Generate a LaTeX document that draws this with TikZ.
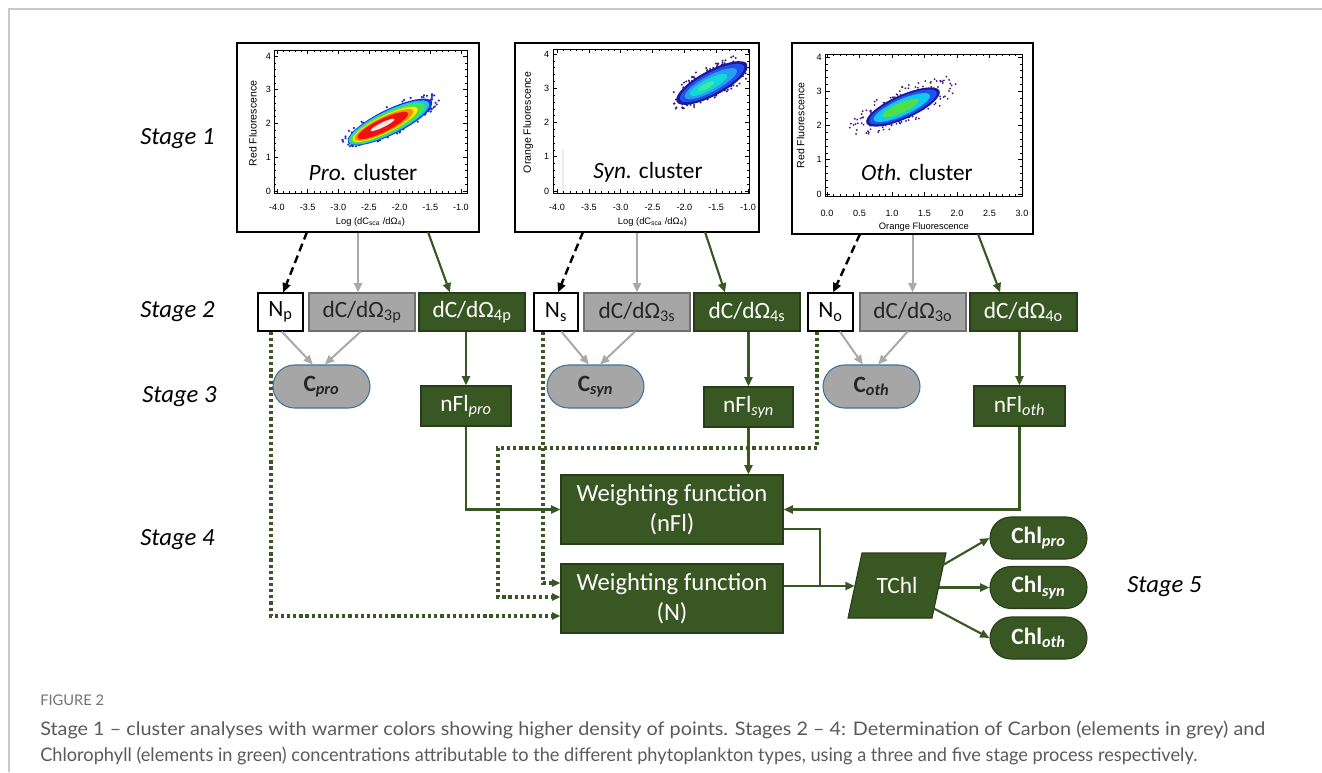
\documentclass[tikz,border=0pt]{standalone}
\usepackage{fontspec}
\usepackage{graphicx}
\setmainfont{Carlito}
\newfontfamily\axfont{Liberation Sans}
\newfontfamily\capfont{Lato}
\usetikzlibrary{arrows.meta,calc,shapes.misc}
\definecolor{dg}{HTML}{385723}
\definecolor{dgd}{HTML}{263D17}
\definecolor{gfill}{HTML}{A6A6A6}
\definecolor{gline}{HTML}{6F6F6F}
\definecolor{garr}{HTML}{A9A9A9}
\definecolor{cblue}{HTML}{41719C}
\definecolor{capg}{HTML}{5A5A5A}
\definecolor{frameg}{HTML}{C8C8C8}
\definecolor{bA}{HTML}{1C2AD0}
\definecolor{bB}{HTML}{10C8F0}
\definecolor{bC}{HTML}{4CE04C}
\definecolor{bD}{HTML}{F2F000}
\definecolor{bE}{HTML}{FF9000}
\definecolor{bF}{HTML}{F01010}
\definecolor{bG}{HTML}{FFE8E8}
\definecolor{nv}{HTML}{1A1A9A}
\definecolor{pu}{HTML}{3A1A8A}
\definecolor{b2}{HTML}{2050F0}
\definecolor{lb}{HTML}{2C9CF0}
\definecolor{cy}{HTML}{10D8D8}
\definecolor{gc}{HTML}{40E8A0}
\begin{document}
\begin{tikzpicture}[x=0.75pt,y=-0.75pt,
  bx/.style={draw, line width=0.8pt, inner sep=0pt, minimum height=28.5pt, font=\fontsize{17.5}{21}\selectfont},
  wb/.style={bx, fill=white, draw=black},
  gb/.style={bx, fill=gfill, draw=gline, text=black!85},
  nb/.style={bx, fill=dg, draw=dgd, text=white},
  cp/.style={rounded rectangle, draw=cblue, line width=0.8pt, fill=gfill, minimum width=72.75pt, minimum height=32.25pt, inner sep=0pt, font=\fontsize{17.5}{21}\selectfont\bfseries, text=black!85},
  chl/.style={rounded rectangle, draw=dgd, line width=0.8pt, fill=dg, text=white, minimum width=72.75pt, minimum height=31.5pt, inner sep=0pt, font=\fontsize{17.5}{21}\selectfont\bfseries},
  wf/.style={bx, fill=dg, draw=dgd, text=white, minimum width=166.5pt, minimum height=51.75pt, align=center, font=\fontsize{18.5}{22.5}\selectfont},
  stg/.style={anchor=west, inner sep=0pt, font=\fontsize{18.5}{20}\selectfont\itshape},
  ga/.style={draw=dg, line width=1.6pt, -{Triangle[length=7pt,width=6pt]}},
  gra/.style={draw=garr, line width=1.5pt, -{Triangle[length=7pt,width=6pt]}},
  bda/.style={draw=black, line width=1.8pt, dash pattern=on 6pt off 3.5pt, -{Triangle[length=7pt,width=6pt]}},
  dta/.style={draw=dg, line width=2.5pt, dash pattern=on 2.4pt off 2.2pt, -{Triangle[length=6.5pt,width=5.5pt]}},
  tk/.style={line width=0.4pt},
  axl/.style={font=\axfont\fontsize{6.8}{7}\selectfont, inner sep=0.5pt},
  axt/.style={font=\axfont\fontsize{7}{8}\selectfont, inner sep=0.5pt},
  ayt/.style={font=\axfont\fontsize{7.9}{8}\selectfont, inner sep=0.5pt},
  clu/.style={font=\fontsize{17.5}{20}\selectfont},
  pbox/.style={draw, line width=0.8pt, inner sep=0pt, fill=white},
]
\useasboundingbox (0,0) rectangle (1322,772);
\draw[frameg, line width=1.1pt] (9,772) -- (9,9) -- (1322,9);

% ---------- plot boxes
\node[pbox, minimum width=181.5pt, minimum height=141.75pt] (p1) at (358,137.5) {};
\node[pbox, minimum width=183pt, minimum height=141.75pt] (p2) at (637,137.5) {};
\node[pbox, minimum width=180.75pt, minimum height=143.25pt] (p3) at (912.5,138.5) {};

% ---------- plot 1 blob
\begin{scope}[shift={(390,122)}, rotate=26]
\pgfmathsetseed{3}
\foreach \i in {1,...,60}{
  \pgfmathsetmacro\th{360*rnd}\pgfmathsetmacro\rr{0.95+0.2*rnd}
  \fill[bA] ({\rr*35*cos(\th)*1pt},{\rr*9.5*sin(\th)*1pt}) rectangle ++(1.3pt,1.3pt);}
\fill[bA] (0,0) ellipse [x radius=35pt, y radius=9.5pt];
\fill[bB] (-1pt,0) ellipse [x radius=33.5pt, y radius=8.7pt];
\fill[bC] (-2pt,0) ellipse [x radius=31pt, y radius=7.8pt];
\fill[bD] (-4pt,0) ellipse [x radius=27pt, y radius=6.5pt];
\fill[bE] (-5pt,0) ellipse [x radius=24.5pt, y radius=5.8pt];
\fill[bF] (-6pt,0) ellipse [x radius=21pt, y radius=4.9pt];
\fill[bG] (-6pt,0.5pt) ellipse [x radius=10pt, y radius=1.8pt];
\end{scope}

% ---------- plot 2 blob
\begin{scope}
\clip (553,49) rectangle (747,193);
\draw[black!8, line width=0.8pt] (563,191) -- (563,150);
\begin{scope}[shift={(712,83)}, rotate=28]
\pgfmathsetseed{11}
\foreach \i in {1,...,90}{
  \pgfmathsetmacro\th{360*rnd}\pgfmathsetmacro\rr{0.9+0.4*rnd}
  \fill[pu] ({\rr*30*cos(\th)*1pt},{\rr*9.5*sin(\th)*1pt}) rectangle ++(1.2pt,1.2pt);}
\fill[nv] (0,0) ellipse [x radius=30pt, y radius=9.5pt];
\fill[b2] (0,0) ellipse [x radius=27pt, y radius=7.8pt];
\fill[lb] (-1pt,0) ellipse [x radius=22pt, y radius=6pt];
\fill[cy] (-3pt,0) ellipse [x radius=16pt, y radius=4.2pt];
\fill[gc] (-5pt,0) ellipse [x radius=7pt, y radius=2pt];
\end{scope}
\end{scope}

% ---------- plot 3 blob
\begin{scope}[shift={(903,107)}, rotate=24]
\pgfmathsetseed{5}
\foreach \i in {1,...,110}{
  \pgfmathsetmacro\th{360*rnd}\pgfmathsetmacro\rr{0.9+0.6*rnd}
  \fill[pu] ({\rr*30*cos(\th)*1pt},{\rr*9*sin(\th)*1pt}) rectangle ++(1.1pt,1.1pt);}
\fill[nv] (0,0) ellipse [x radius=30pt, y radius=9pt];
\fill[b2] (0,0) ellipse [x radius=27.5pt, y radius=7.5pt];
\fill[bB] (-1pt,0) ellipse [x radius=23pt, y radius=6pt];
\fill[bC] (-2pt,0) ellipse [x radius=15pt, y radius=3.8pt];
\end{scope}

% ---------- plot 1 axes
\begin{scope}[shift={(522.3,191)}, x=46pt, y=25.31pt]
\draw[line width=0.5pt] (-4.05,-0.06) rectangle (-0.9,4.18);
\foreach \t in {-4,-3.5,...,-1}{\draw[tk] (\t,-0.06) -- ++(0,3pt); \draw[tk] (\t,4.18) -- ++(0,-3pt);}
\foreach \t in {-4,-3.9,...,-0.95}{\draw[tk] (\t,-0.06) -- ++(0,1.5pt); \draw[tk] (\t,4.18) -- ++(0,-1.5pt);}
\foreach \t in {0,1,2,3,4}{\draw[tk] (-4.05,\t) -- ++(3pt,0); \draw[tk] (-0.9,\t) -- ++(-3pt,0);}
\foreach \t in {0,0.2,...,4.1}{\draw[tk] (-4.05,\t) -- ++(1.5pt,0); \draw[tk] (-0.9,\t) -- ++(-1.5pt,0);}
\foreach \t/\l [count=\i] in {-4/-4.0,-3.5/-3.5,-3/-3.0,-2.5/-2.5,-2/-2.0,-1.5/-1.5,-1/-1.0}
  {\node[axl, yshift=-10.5pt] (p1x\i) at (\t,-0.06) {\l};}
\foreach \t [count=\i] in {0,1,2,3,4}{\node[axl, anchor=east, xshift=-1.5pt] (p1y\i) at (-4.05,\t) {\t};}
\node[axt, yshift=-21.75pt] (p1xt) at (-2.475,-0.06) {Log (dC\textsubscript{sca} /dΩ\textsubscript{4})};
\node[ayt, xshift=-15.75pt, rotate=90] (p1yt) at (-4.05,2.0) {Red Fluorescence};
\end{scope}

% ---------- plot 2 axes
\begin{scope}[shift={(811.7,191)}, x=47.75pt, y=25.69pt]
\draw[line width=0.5pt] (-4.06,-0.06) rectangle (-0.98,4.15);
\foreach \t in {-4,-3.5,...,-1}{\draw[tk] (\t,-0.06) -- ++(0,3pt); \draw[tk] (\t,4.15) -- ++(0,-3pt);}
\foreach \t in {-4,-3.9,...,-0.95}{\draw[tk] (\t,-0.06) -- ++(0,1.5pt); \draw[tk] (\t,4.15) -- ++(0,-1.5pt);}
\foreach \t in {0,1,2,3,4}{\draw[tk] (-4.06,\t) -- ++(3pt,0); \draw[tk] (-0.98,\t) -- ++(-3pt,0);}
\foreach \t in {0,0.2,...,4.1}{\draw[tk] (-4.06,\t) -- ++(1.5pt,0); \draw[tk] (-0.98,\t) -- ++(-1.5pt,0);}
\foreach \t/\l [count=\i] in {-4/-4.0,-3.5/-3.5,-3/-3.0,-2.5/-2.5,-2/-2.0,-1.5/-1.5,-1/-1.0}
  {\node[axl, yshift=-10.5pt] (p2x\i) at (\t,-0.06) {\l};}
\foreach \t [count=\i] in {0,1,2,3,4}{\node[axl, anchor=east, xshift=-2.25pt] (p2y\i) at (-4.06,\t) {\t};}
\node[axt, yshift=-21.75pt] (p2xt) at (-2.5,-0.06) {Log (dC\textsubscript{sca} /dΩ\textsubscript{4})};
\node[ayt, xshift=-18.75pt, rotate=90] (p2yt) at (-4.06,2.0) {Orange Fluorescence};
\end{scope}

% ---------- plot 3 axes
\begin{scope}[shift={(827,194)}, x=48.75pt, y=25.69pt]
\draw[line width=0.5pt] (-0.02,-0.06) rectangle (3.0,4.08);
\foreach \t in {0,0.5,...,3}{\draw[tk] (\t,-0.06) -- ++(0,3pt); \draw[tk] (\t,4.08) -- ++(0,-3pt);}
\foreach \t in {0,0.1,...,3.01}{\draw[tk] (\t,-0.06) -- ++(0,1.5pt); \draw[tk] (\t,4.08) -- ++(0,-1.5pt);}
\foreach \t in {0,1,2,3,4}{\draw[tk] (-0.02,\t) -- ++(3pt,0); \draw[tk] (3.0,\t) -- ++(-3pt,0);}
\foreach \t in {0,0.2,...,4.01}{\draw[tk] (-0.02,\t) -- ++(1.5pt,0); \draw[tk] (3.0,\t) -- ++(-1.5pt,0);}
\foreach \t/\l [count=\i] in {0/0.0,0.5/0.5,1/1.0,1.5/1.5,2/2.0,2.5/2.5,3/3.0}
  {\node[axl, yshift=-12.75pt] (p3x\i) at (\t,-0.06) {\l};}
\foreach \t [count=\i] in {0,1,2,3,4}{\node[axl, anchor=east, xshift=-2.25pt] (p3y\i) at (-0.02,\t) {\t};}
\node[axt, yshift=-23.25pt] (p3xt) at (1.49,-0.06) {Orange Fluorescence};
\node[ayt, xshift=-18.75pt, rotate=90] (p3yt) at (-0.02,2.0) {Red Fluorescence};
\end{scope}

% ---------- cluster labels
\node[clu] (c1) at (363,172) {\textit{Pro.} cluster};
\node[clu] (c2) at (648,172) {\textit{Syn.} cluster};
\node[clu] (c3) at (917,172) {\textit{Oth.} cluster};

% ---------- stage labels
\node[stg] (st1) at (140,139) {Stage 1};
\node[stg] (st2) at (140,312) {Stage 2};
\node[stg] (st3) at (142,397) {Stage 3};
\node[stg] (st4) at (140,540) {Stage 4};
\node[stg] (st5) at (1127,587) {Stage 5};

% ---------- stage 2
\node[wb, minimum width=33.75pt] (Np) at (280.5,312) {N\textsubscript{p}};
\node[gb, minimum width=79.5pt] (d3p) at (362,312) {dC/dΩ\textsubscript{3p}};
\node[nb, minimum width=79.5pt] (d4p) at (472,312) {dC/dΩ\textsubscript{4p}};
\node[wb, minimum width=33pt] (Ns) at (556,312) {N\textsubscript{s}};
\node[gb, minimum width=79.5pt] (d3s) at (637,312) {dC/dΩ\textsubscript{3s}};
\node[nb, minimum width=79.5pt] (d4s) at (747,312) {dC/dΩ\textsubscript{4s}};
\node[wb, minimum width=33.75pt] (No) at (830.5,312) {N\textsubscript{o}};
\node[gb, minimum width=79.5pt] (d3o) at (913,312) {dC/dΩ\textsubscript{3o}};
\node[nb, minimum width=80.25pt] (d4o) at (1023.5,312) {dC/dΩ\textsubscript{4o}};

% ---------- stage 3
\node[cp] (Cpro) at (321.5,386.5) {C\textsubscript{\textit{pro}}};
\node[cp] (Csyn) at (595.5,386.5) {C\textsubscript{\textit{syn}}};
\node[cp] (Coth) at (871.5,386.5) {C\textsubscript{\textit{oth}}};
\node[nb, minimum width=67.5pt, minimum height=30pt] (nFlpro) at (466,406) {nFl\textsubscript{\textit{pro}}};
\node[nb, minimum width=66.75pt, minimum height=30pt] (nFlsyn) at (748.5,407) {nFl\textsubscript{\textit{syn}}};
\node[nb, minimum width=68.25pt, minimum height=30pt] (nFloth) at (1019.5,406) {nFl\textsubscript{\textit{oth}}};

% ---------- stage 4
\node[wf] (WFnFl) at (672,509.5) {Weighting function\\(nFl)};
\node[wf] (WFN) at (672,598.5) {Weighting function\\(N)};

% ---------- TChl
\coordinate (tc) at (897,585.5);
\filldraw[fill=dg, draw=dgd, line width=0.8pt] ($(tc)+(-35,-32.5)$) -- ($(tc)+(49,-32.5)$) -- ($(tc)+(35,32.5)$) -- ($(tc)+(-49,32.5)$) -- cycle;
\node[minimum width=63pt, minimum height=48.75pt, inner sep=0pt, text=white, font=\fontsize{17.5}{21}\selectfont] (TChl) at (tc) {TChl};

% ---------- stage 5
\node[chl] (Chlpro) at (1038.5,538) {Chl\textsubscript{\textit{pro}}};
\node[chl] (Chlsyn) at (1038.5,587.5) {Chl\textsubscript{\textit{syn}}};
\node[chl] (Chloth) at (1038.5,638) {Chl\textsubscript{\textit{oth}}};

% ---------- plots -> stage 2
\coordinate (a1) at (307,232);
\coordinate (b1) at (428,232);
\coordinate (a2) at (583,232);
\coordinate (b2) at (705,232);
\coordinate (a3) at (860,234);
\coordinate (b3) at (978,234);
\draw[bda] (a1) -- ([xshift=2pt]Np.north);
\draw[gra] (p1.south) -- (p1.south |- d3p.north);
\draw[ga] (b1) -- ([xshift=-16.5pt]d4p.north);
\draw[bda] (a2) -- ([xshift=1.5pt]Ns.north);
\draw[gra] (p2.south) -- (p2.south |- d3s.north);
\draw[ga] (b2) -- ([xshift=-16.5pt]d4s.north);
\draw[bda] (a3) -- ([xshift=2pt]No.north);
\draw[gra] (p3.south) -- (p3.south |- d3o.north);
\draw[ga] (b3) -- ([xshift=-17.5pt]d4o.north);

% ---------- stage 2 -> stage 3
\draw[gra] ([xshift=1pt]Np.south) -- ([xshift=-6.5pt]Cpro.north);
\draw[gra] ([xshift=-1pt]d3p.south) -- ([xshift=2.5pt]Cpro.north);
\draw[gra] ([xshift=4pt]Ns.south) -- ([xshift=-5pt]Csyn.north);
\draw[gra] ([xshift=-1.5pt]d3s.south) -- ([xshift=3.5pt]Csyn.north);
\draw[gra] ([xshift=7pt]No.south) -- ([xshift=-6.5pt]Coth.north);
\draw[gra] ([xshift=-4pt]d3o.south) -- ([xshift=5pt]Coth.north);
\draw[ga] (nFlpro.north |- d4p.south) -- (nFlpro.north);
\draw[ga] (nFlsyn.north |- d4s.south) -- (nFlsyn.north);
\draw[ga] (nFloth.north |- d4o.south) -- (nFloth.north);

% ---------- stage 3 -> stage 4
\draw[ga] (nFlpro.south) |- (WFnFl.west);
\draw[ga] (nFlsyn.south) -- (nFlsyn.south |- WFnFl.north);
\draw[ga] (nFloth.south) |- (WFnFl.east);

% ---------- dotted N connectors
\coordinate (d1) at (271,616);
\coordinate (d2) at (543,583);
\coordinate (d3a) at (817,448);
\coordinate (d3b) at (498,448);
\coordinate (d3c) at (498,597);
\draw[dta] (Np.south -| d1) -- (d1) -- (WFN.west |- d1);
\draw[dta] (Ns.south -| d2) -- (d2) -- (WFN.west |- d2);
\draw[dta] (No.south -| d3a) -- (d3a) -- (d3b) -- (d3c) -- (WFN.west |- d3c);

% ---------- stage 4 -> TChl -> stage 5
\coordinate (k) at (820,529);
\coordinate (j) at (820,586);
\draw[draw=dg, line width=1.6pt] (WFnFl.east |- k) -- (k) -- (j);
\draw[ga] (WFN.east |- j) -- (TChl.west |- j);
\coordinate (t1) at (943,565);
\coordinate (t3) at (933,608);
\draw[ga] (t1) -- (Chlpro.west);
\draw[ga] (TChl.east |- Chlsyn.west) -- (Chlsyn.west);
\draw[ga] (t3) -- (Chloth.west);

% ---------- caption
\node[anchor=west, inner sep=0pt, text=capg!85, font=\capfont\fontsize{11}{12}\selectfont] (fig) at (40,700) {FIGURE 2};
\node[anchor=west, inner sep=0pt, text=capg, font=\capfont\fontsize{14}{16}\selectfont] (cap1) at (40,730) {\resizebox{918.75pt}{\height}{Stage 1 – cluster analyses with warmer colors showing higher density of points. Stages 2 – 4: Determination of Carbon (elements in grey) and}};
\node[anchor=west, inner sep=0pt, text=capg, font=\capfont\fontsize{14}{16}\selectfont] (cap2) at (40,756) {\resizebox{867.75pt}{\height}{Chlorophyll (elements in green) concentrations attributable to the different phytoplankton types, using a three and five stage process respectively.}};
\end{tikzpicture}
\end{document}
